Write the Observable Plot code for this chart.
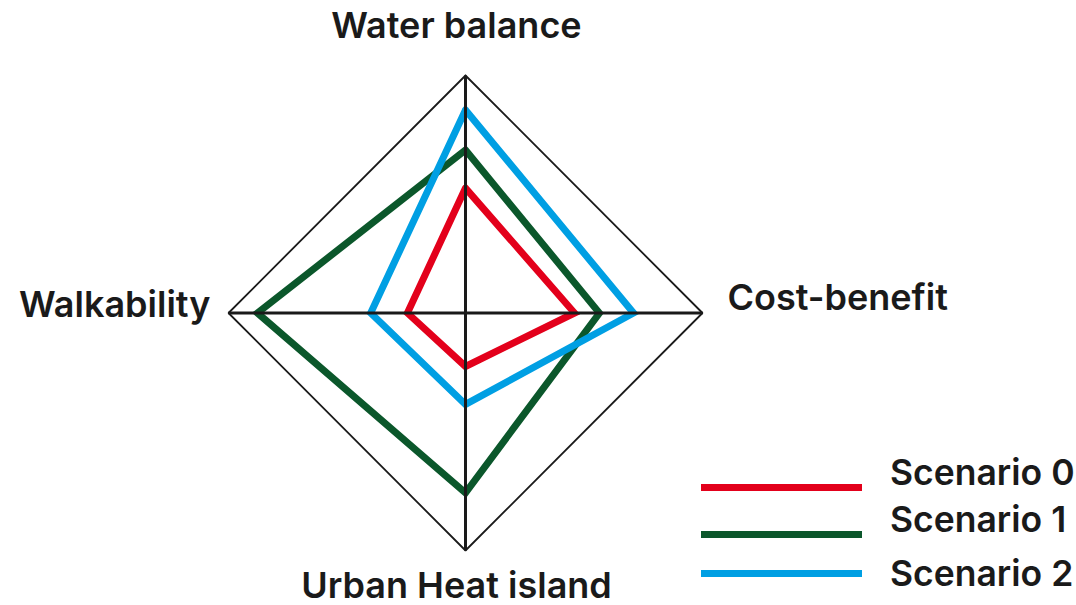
<!DOCTYPE html>
<html>
<head>
<meta charset="utf-8">
<script src="https://cdn.jsdelivr.net/npm/d3@7"></script>
<script src="https://cdn.jsdelivr.net/npm/@observablehq/plot@0.6"></script>
<style>
  html, body { margin: 0; padding: 0; background: #fff; }
  #wrap { position: relative; width: 1076px; height: 605px; font-family: Inter, Roboto, sans-serif; }
  .leg-line { position: absolute; height: 7px; width: 161px; left: 701px; }
  .leg-text { position: absolute; left: 890px; font-size: 35.5px; font-weight: 600; color: #1a1a1a; line-height: 1; white-space: nowrap; }
</style>
</head>
<body>
<div id="wrap"></div>
<script>
// ---- data ----
const axes = ["Water balance", "Cost-benefit", "Urban Heat island", "Walkability"];
const scenarios = ["Scenario 0", "Scenario 1", "Scenario 2"];
const scenario0 = [0.526, 0.46, 0.225, 0.245];
const scenario1 = [0.686, 0.565, 0.757, 0.878];
const scenario2 = [0.855, 0.709, 0.385, 0.40];
const colors = ["#e3001b", "#0b572b", "#009fe3"];
const frameLevel = 1;

// ---- build ----
const angles = axes.map((_, i) => (i * 2 * Math.PI) / axes.length); // clockwise from top
const pt = (v, i) => ({ x: v * Math.sin(angles[i]), y: v * Math.cos(angles[i]) });

const seriesValues = [scenario0, scenario1, scenario2];
const rows = [];
seriesValues.forEach((vals, s) => {
  [...vals, vals[0]].forEach((v, k) => {
    const i = k % axes.length;
    rows.push({ scenario: scenarios[s], axis: axes[i], value: v, ...pt(v, i) });
  });
});
const frameRows = [...axes, axes[0]].map((a, k) => ({ axis: a, ...pt(frameLevel, k % axes.length) }));
const tips = axes.map((a, i) => ({ axis: a, ...pt(frameLevel, i) }));
const spokes = tips.map(t => ({ axis: t.axis, x1: 0, y1: 0, x2: t.x, y2: t.y }));

const labelOpts = [
  { dx: -9, dy: -38, textAnchor: "middle" },
  { dx: 25, dy: -3, textAnchor: "start" },
  { dx: -9, dy: 47, textAnchor: "middle" },
  { dx: -18, dy: 4, textAnchor: "end" }
];

const plot = Plot.plot({
  width: 1076,
  height: 605,
  marginLeft: 228,
  marginRight: 374,
  marginTop: 75,
  marginBottom: 55,
  x: { domain: [-1, 1], axis: null },
  y: { domain: [-1, 1], axis: null },
  color: { domain: scenarios, range: colors },
  style: { fontFamily: "Inter, Roboto, sans-serif", overflow: "visible" },
  marks: [
    Plot.line(frameRows, { x: "x", y: "y", stroke: "#1a1a1a", strokeWidth: 1.8, strokeLinejoin: "miter" }),
    Plot.line(rows, { x: "x", y: "y", z: "scenario", stroke: "scenario", strokeWidth: 7, strokeLinejoin: "miter", strokeMiterlimit: 10 }),
    Plot.link(spokes, { x1: "x1", y1: "y1", x2: "x2", y2: "y2", stroke: "#1a1a1a", strokeWidth: 3 }),
    ...tips.map((t, i) => Plot.text([t], {
      x: "x", y: "y", text: "axis",
      fontSize: 36, fontWeight: 600, fill: "#1a1a1a",
      lineAnchor: "bottom",
      ...labelOpts[i]
    }))
  ]
});

const wrap = document.getElementById("wrap");
plot.style.position = "absolute";
plot.style.left = "0";
plot.style.top = "0";
wrap.appendChild(plot);

// legend (HTML overlay)
const legLineY = [487, 534, 573];
const legTextTop = [461, 508, 562];
scenarios.forEach((s, i) => {
  const l = document.createElement("div");
  l.className = "leg-line";
  l.style.top = (legLineY[i] - 3.5) + "px";
  l.style.background = colors[i];
  wrap.appendChild(l);
  const t = document.createElement("div");
  t.className = "leg-text";
  t.style.top = (legTextTop[i] - 6) + "px";
  t.textContent = s;
  wrap.appendChild(t);
});
</script>
</body>
</html>
